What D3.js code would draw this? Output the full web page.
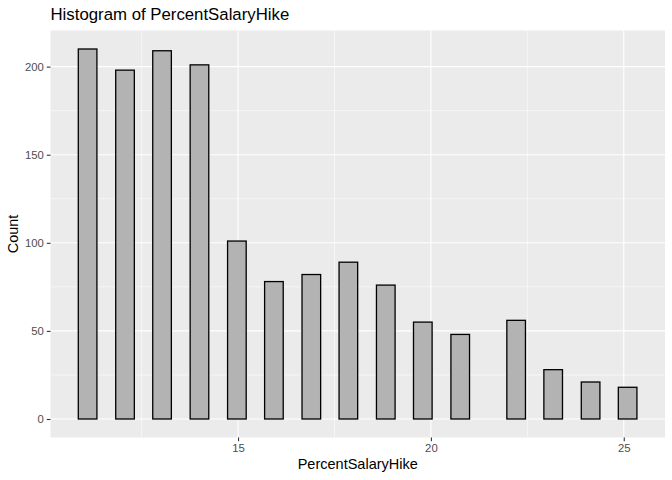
<!DOCTYPE html>
<html>
<head>
<meta charset="utf-8">
<script src="https://cdn.jsdelivr.net/npm/d3@7"></script>
<style>
  body { margin: 0; background: #fff; }
  text { font-family: "Liberation Sans", Arial, sans-serif; }
</style>
</head>
<body>
<svg id="chart" width="672" height="480"></svg>
<script>
// bin centers (PercentSalaryHike) and counts, 30 bins of width ~0.483
var binWidth = 0.4828;
var binCenters = [11.10, 11.59, 12.07, 12.55, 13.03, 13.52, 14.00, 14.48, 14.97, 15.45,
                  15.93, 16.41, 16.90, 17.38, 17.86, 18.34, 18.83, 19.31, 19.79, 20.28,
                  20.76, 21.24, 21.72, 22.21, 22.69, 23.17, 23.66, 24.14, 24.62, 25.10];
var counts = [210, 0, 198, 0, 209, 0, 201, 0, 101, 0,
              78, 0, 82, 0, 89, 0, 76, 0, 55, 0,
              48, 0, 0, 56, 0, 28, 0, 21, 0, 18];
var xTicks = [15, 20, 25];
var xMinor = [12.5, 17.5, 22.5];
var yTicks = [0, 50, 100, 150, 200];
var yMinor = [25, 75, 125, 175];

var svg = d3.select("#chart");
var pLeft = 50.5, pRight = 665, pTop = 30.5, pBottom = 437.5;

var x = d3.scaleLinear().domain([10.138, 26.069]).range([pLeft, pRight]);
var y = d3.scaleLinear().domain([-10.5, 220.5]).range([pBottom, pTop]);

// panel
svg.append("rect")
  .attr("x", pLeft).attr("y", pTop)
  .attr("width", pRight - pLeft).attr("height", pBottom - pTop)
  .attr("fill", "#EBEBEB");

// minor grid
svg.selectAll(".xminor").data(xMinor).enter().append("line")
  .attr("x1", d => x(d)).attr("x2", d => x(d))
  .attr("y1", pTop).attr("y2", pBottom)
  .attr("stroke", "#fff").attr("stroke-width", 0.55);
svg.selectAll(".yminor").data(yMinor).enter().append("line")
  .attr("x1", pLeft).attr("x2", pRight)
  .attr("y1", d => y(d)).attr("y2", d => y(d))
  .attr("stroke", "#fff").attr("stroke-width", 0.55);

// major grid
svg.selectAll(".xmajor").data(xTicks).enter().append("line")
  .attr("x1", d => x(d)).attr("x2", d => x(d))
  .attr("y1", pTop).attr("y2", pBottom)
  .attr("stroke", "#fff").attr("stroke-width", 1.1);
svg.selectAll(".ymajor").data(yTicks).enter().append("line")
  .attr("x1", pLeft).attr("x2", pRight)
  .attr("y1", d => y(d)).attr("y2", d => y(d))
  .attr("stroke", "#fff").attr("stroke-width", 1.1);

// bars (zero-count bins still draw their outline on the baseline)
svg.selectAll(".bar").data(counts).enter().append("rect")
  .attr("x", (d, i) => x(binCenters[i] - binWidth / 2))
  .attr("width", (d, i) => x(binCenters[i] + binWidth / 2) - x(binCenters[i] - binWidth / 2))
  .attr("y", d => y(d))
  .attr("height", d => y(0) - y(d))
  .attr("fill", "#B3B3B3")
  .attr("stroke", "#000")
  .attr("stroke-width", 1.3);

// axes
var xAxis = d3.axisBottom(x).tickValues(xTicks).tickSize(3.7).tickPadding(3);
var gx = svg.append("g").attr("transform", `translate(0,${pBottom})`).call(xAxis);
var yAxis = d3.axisLeft(y).tickValues(yTicks).tickSize(3.7).tickPadding(3);
var gy = svg.append("g").attr("transform", `translate(${pLeft},0)`).call(yAxis);
[gx, gy].forEach(function (g) {
  g.select(".domain").remove();
  g.selectAll(".tick line").attr("stroke", "#333").attr("stroke-width", 1.1);
  g.selectAll(".tick text").attr("fill", "#4D4D4D")
    .style("font-family", '"Liberation Sans", Arial, sans-serif').style("font-size", "11.3px");
});

// titles
svg.append("text").attr("x", pLeft).attr("y", 20)
  .style("font-size", "16.8px").attr("fill", "#000")
  .text("Histogram of PercentSalaryHike");
svg.append("text").attr("x", (pLeft + pRight) / 2).attr("y", 469)
  .attr("text-anchor", "middle").style("font-size", "14.5px")
  .text("PercentSalaryHike");
svg.append("text")
  .attr("transform", `translate(17.5,${(pTop + pBottom) / 2}) rotate(-90)`)
  .attr("text-anchor", "middle").style("font-size", "14.5px")
  .text("Count");
</script>
</body>
</html>
